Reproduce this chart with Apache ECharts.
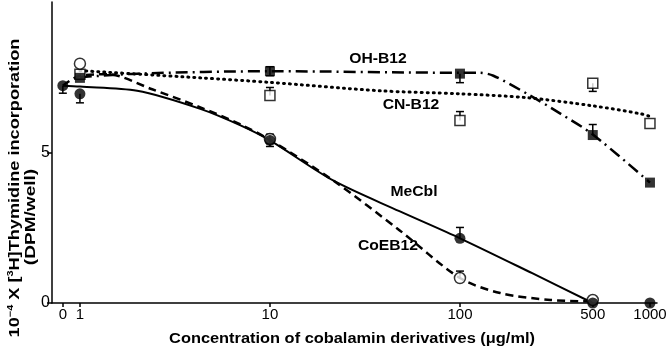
<!DOCTYPE html>
<html>
<head>
<meta charset="utf-8">
<script src="https://cdn.jsdelivr.net/npm/echarts@6/dist/echarts.min.js"></script>
<style>
  html, body { margin: 0; padding: 0; background: #fff; }
  #main { width: 669px; height: 350px; }
</style>
</head>
<body>
<div id="main"></div>
<script>
    // data (concentration in ug/ml, value x 10^-4 DPM/well)
    var concentrations = [0, 1, 10, 100, 500, 1000];
    var tickLabels = ['0', '1', '10', '100', '500', '1000'];

    var meCblValues  = [7.22, 6.95, 5.4, 2.15, 0, 0];
    var coEB12Values = [null, 7.95, 5.45, 0.83, 0.1, null];
    var ohB12Values  = [null, 7.48, 7.7, 7.62, 5.58, 4.0];
    var cnB12Values  = [null, 7.6, 6.89, 6.06, 7.3, 5.96];

    // error bars [below, above]
    var meCblErr  = [[0.25, 0], [0.3, 0], [0.2, 0.2], [0, 0.36], [0, 0], [0, 0]];
    var coEB12Err = [null, [0, 0], [0.15, 0.15], [0, 0.23], [0, 0], null];
    var ohB12Err  = [null, [0, 0], [0.15, 0.15], [0.3, 0], [0, 0.35], [0, 0]];
    var cnB12Err  = [null, [0, 0], [0, 0.27], [0, 0.3], [0.27, 0], [0, 0]];

    // fitted curves drawn through the points [concentration, value]
    var meCblCurve  = [[0, 7.22], [1, 7.19], [2, 7.05], [4.3, 6.45], [7, 5.9], [10, 5.4], [21.5, 4.07], [48, 3.05], [100, 2.15], [240, 0.99], [500, 0]];
    var coEB12Curve = [[0, 7.22], [1, 7.55], [1.4, 7.6], [2.4, 7.1], [4.3, 6.5], [7, 5.93], [10, 5.42], [21.5, 4.07], [48, 2.42], [100, 0.83], [163, 0.33], [300, 0.1], [500, 0.05]];
    var ohB12Curve  = [[1, 7.5], [2, 7.62], [10, 7.7], [100, 7.65], [126, 7.65], [150, 7.55], [233, 6.9], [336, 6.3], [500, 5.6], [1000, 4.0]];
    var cnB12Curve  = [[1, 7.72], [4.3, 7.48], [10, 7.33], [38, 7.05], [100, 6.95], [226, 6.82], [500, 6.55], [888, 6.29], [1000, 6.2]];

    var ZERO_POS = -0.09; // where the "0" control sits on the log axis

    function xPos(c) {
        return c === 0 ? ZERO_POS : Math.log10(c);
    }
    function points(vals) {
        var out = [];
        for (var i = 0; i < concentrations.length; i++) {
            if (vals[i] != null) out.push([xPos(concentrations[i]), vals[i]]);
        }
        return out;
    }
    function curve(arr) {
        return arr.map(function (p) { return [xPos(p[0]), p[1]]; });
    }
    function errData(vals, errs) {
        var out = [];
        for (var i = 0; i < concentrations.length; i++) {
            if (vals[i] != null && errs[i]) out.push([xPos(concentrations[i]), vals[i], errs[i][0], errs[i][1]]);
        }
        return out;
    }

    var tickPositions = concentrations.map(xPos);
    var FONT = 'Liberation Sans, Arial, sans-serif';

    function errorBars(name, vals, errs, z) {
        return {
            name: name + ' err',
            type: 'custom',
            z: z,
            data: errData(vals, errs),
            renderItem: function (params, api) {
                var x = api.value(0), y = api.value(1);
                var lo = api.coord([x, y - api.value(2)]);
                var hi = api.coord([x, y + api.value(3)]);
                var children = [{
                    type: 'line',
                    shape: { x1: lo[0], y1: lo[1], x2: hi[0], y2: hi[1] },
                    style: { stroke: '#000', lineWidth: 1.5 }
                }];
                if (api.value(2) > 0) children.push({
                    type: 'line', shape: { x1: lo[0] - 4, y1: lo[1], x2: lo[0] + 4, y2: lo[1] },
                    style: { stroke: '#000', lineWidth: 1.5 }
                });
                if (api.value(3) > 0) children.push({
                    type: 'line', shape: { x1: hi[0] - 4, y1: hi[1], x2: hi[0] + 4, y2: hi[1] },
                    style: { stroke: '#000', lineWidth: 1.5 }
                });
                return { type: 'group', children: children };
            }
        };
    }

    function lineSeries(name, data, lineStyle) {
        return {
            name: name,
            type: 'line',
            data: curve(data),
            smooth: 0.3,
            showSymbol: false,
            silent: true,
            z: 2,
            lineStyle: Object.assign({ color: '#000' }, lineStyle)
        };
    }

    function markerSeries(name, vals, symbol, filled, z) {
        return {
            name: name + ' pts',
            type: 'scatter',
            data: points(vals),
            symbol: symbol,
            symbolSize: symbol === 'rect' ? 10 : 11,
            z: z,
            itemStyle: {
                color: filled ? '#000' : '#fff',
                borderColor: '#000',
                borderWidth: filled ? 0 : 1.5
            }
        };
    }

    // the original print is a bit stretched sideways, so the texts get a scaleX
    function label(text, x, y) {
        return {
            type: 'text', x: x, y: y, scaleX: 1.12,
            style: { text: text, fontFamily: FONT, fontSize: 14, fontWeight: 'bold', fill: '#000', align: 'center', verticalAlign: 'middle' }
        };
    }

    var chart = echarts.init(document.getElementById('main'));
    var option = {
        backgroundColor: '#fff',
        animation: false,
        grid: { left: 52, right: 12, top: 2, bottom: 47, outerBoundsMode: 'none' },
        xAxis: {
            type: 'value',
            min: -0.147,
            max: 3.037,
            axisLine: { onZero: true, lineStyle: { color: '#000', width: 1.5 } },
            axisTick: { show: true, length: 4, customValues: tickPositions, lineStyle: { color: '#000', width: 1.5 } },
            splitLine: { show: false },
            axisLabel: {
                customValues: tickPositions,
                color: '#000',
                fontFamily: FONT,
                fontSize: 15,
                margin: 4,
                formatter: function (v) {
                    for (var i = 0; i < tickPositions.length; i++) {
                        if (Math.abs(tickPositions[i] - v) < 1e-6) return tickLabels[i];
                    }
                    return '';
                }
            }
        },
        yAxis: {
            type: 'value',
            min: 0,
            max: 10,
            axisLine: { show: true, onZero: false, lineStyle: { color: '#000', width: 1.5 } },
            axisTick: { show: true, length: 5, customValues: [0, 5], lineStyle: { color: '#000', width: 1.5 } },
            splitLine: { show: false },
            axisLabel: {
                customValues: [0, 5],
                color: '#000',
                fontFamily: FONT,
                fontSize: 16,
                margin: 2
            }
        },
        graphic: [
            {
                type: 'text', x: 14.5, y: 188, rotation: Math.PI / 2, scaleX: 1.21,
                style: {
                    text: '10{sup|−4} X [{sup|3}H]Thymidine incorporation',
                    fontFamily: FONT, fontSize: 15, fontWeight: 'bold', fill: '#000',
                    align: 'center', verticalAlign: 'middle',
                    rich: { sup: { fontSize: 9, fontWeight: 'bold', fontFamily: FONT, verticalAlign: 'top', lineHeight: 17 } }
                }
            },
            {
                type: 'text', x: 31, y: 217, rotation: Math.PI / 2, scaleX: 1.27,
                style: {
                    text: '(DPM/well)', fontFamily: FONT, fontSize: 15, fontWeight: 'bold', fill: '#000',
                    align: 'center', verticalAlign: 'middle'
                }
            },
            {
                type: 'text', x: 352, y: 339, scaleX: 1.17,
                style: {
                    text: 'Concentration of cobalamin derivatives (μg/ml)', fontFamily: FONT, fontSize: 14,
                    fontWeight: 'bold', fill: '#000', align: 'center', verticalAlign: 'middle'
                }
            },
            label('OH-B12', 378, 59),
            label('CN-B12', 411, 105),
            label('MeCbl', 414, 192),
            label('CoEB12', 388, 246)
        ],
        series: [
            lineSeries('CN-B12', cnB12Curve, { width: 3, type: [1, 5], cap: 'round' }),
            lineSeries('OH-B12', ohB12Curve, { width: 2.5, type: [12, 5, 2, 5] }),
            lineSeries('CoEB12', coEB12Curve, { width: 2.5, type: [8, 5] }),
            lineSeries('MeCbl', meCblCurve, { width: 2, type: 'solid' }),

            errorBars('CN-B12', cnB12Values, cnB12Err, 3),
            errorBars('OH-B12', ohB12Values, ohB12Err, 3),
            errorBars('CoEB12', coEB12Values, coEB12Err, 3),
            errorBars('MeCbl', meCblValues, meCblErr, 3),

            markerSeries('CN-B12', cnB12Values, 'rect', false, 4),
            markerSeries('OH-B12', ohB12Values, 'rect', true, 5),
            markerSeries('CoEB12', coEB12Values, 'circle', false, 6),
            markerSeries('MeCbl', meCblValues, 'circle', true, 7)
        ]
    };
    chart.setOption(option);
</script>
</body>
</html>
